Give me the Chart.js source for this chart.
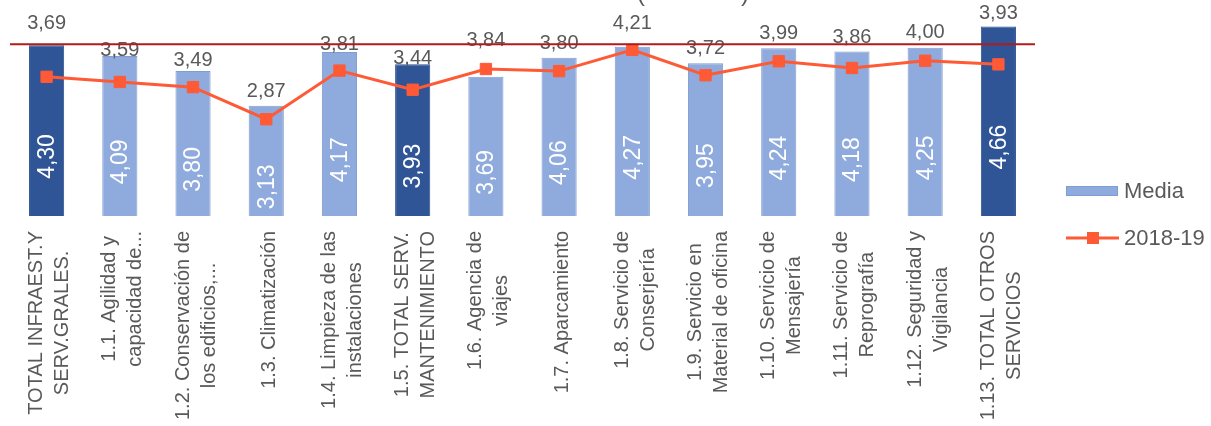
<!DOCTYPE html>
<html><head><meta charset="utf-8">
<script src="https://cdn.jsdelivr.net/npm/chart.js@4.4.1/dist/chart.umd.min.js"></script>
<style>html,body{margin:0;padding:0;background:#fff}#wrap{width:1211px;height:426px}</style>
</head><body><div id="wrap"><canvas id="c" width="1211" height="426"></canvas></div>
<script>
const categories = [
  ["TOTAL INFRAEST.Y", "SERV.GRALES."],
  ["1.1. Agilidad y", "capacidad de..."],
  ["1.2. Conservación de", "los edificios,..."],
  ["1.3. Climatización"],
  ["1.4. Limpieza de las", "instalaciones"],
  ["1.5. TOTAL SERV.", "MANTENIMIENTO"],
  ["1.6. Agencia de", "viajes"],
  ["1.7. Aparcamiento"],
  ["1.8. Servicio de", "Conserjería"],
  ["1.9. Servicio en", "Material de oficina"],
  ["1.10. Servicio de", "Mensajería"],
  ["1.11. Servicio de", "Reprografía"],
  ["1.12. Seguridad y", "Vigilancia"],
  ["1.13. TOTAL OTROS", "SERVICIOS"]
];
const media = [4.30, 4.09, 3.80, 3.13, 4.17, 3.93, 3.69, 4.06, 4.27, 3.95, 4.24, 4.18, 4.25, 4.66];
const prev  = [3.69, 3.59, 3.49, 2.87, 3.81, 3.44, 3.84, 3.80, 4.21, 3.72, 3.99, 3.86, 4.00, 3.93];
const totalIdx = [0, 5, 13];
const refValue = 4.32;
const seriesNames = ["Media", "2018-19"];

const FONT = '"Liberation Sans", Arial, sans-serif';
const LIGHT = '#8FAADC', DARK = '#2F5597', LINE = '#FF5A36', TEXT = '#595959';
const labelLift = [16, 0, 5, 9, 2, 0, 31, 9, 18, 9, 9, 8, 10, 8];
const fmt = v => v.toFixed(2).replace('.', ',');

const overlay = {
  id: 'overlay',
  afterDatasetDraw(chart, args) {
    if (args.index !== 0) return;
    const ctx = chart.ctx;
    ctx.save();
    ctx.fillStyle = '#ffffff';
    ctx.font = '23px ' + FONT;
    ctx.textAlign = 'center';
    ctx.textBaseline = 'middle';
    args.meta.data.forEach((bar, i) => {
      const cy = (bar.y + bar.base) / 2;
      ctx.save();
      ctx.translate(bar.x + 1, cy);
      ctx.rotate(-Math.PI / 2);
      ctx.fillText(fmt(media[i]), 0, 0);
      ctx.restore();
    });
    ctx.restore();
  },
  afterDraw(chart) {
    const ctx = chart.ctx;
    const xs = chart.scales.x, ys = chart.scales.y;
    const area = chart.chartArea;
    const bars = chart.getDatasetMeta(0).data;
    ctx.save();
    // values of 2018-19 above bars
    ctx.fillStyle = TEXT;
    ctx.font = '20px ' + FONT;
    ctx.textAlign = 'center';
    ctx.textBaseline = 'alphabetic';
    bars.forEach((bar, i) => ctx.fillText(fmt(prev[i]), bar.x, bar.y - labelLift[i]));
    // reference line
    const ry = ys.getPixelForValue(refValue);
    ctx.strokeStyle = '#B01C1C';
    ctx.lineWidth = 2;
    ctx.beginPath();
    ctx.moveTo(area.left, ry);
    ctx.lineTo(area.right, ry);
    ctx.stroke();
    // category labels
    ctx.font = '20px ' + FONT;
    ctx.fillStyle = TEXT;
    ctx.textAlign = 'center';
    ctx.textBaseline = 'middle';
    categories.forEach((lines, i) => {
      const px = xs.getPixelForValue(i) + 3;
      const maxW = Math.max(...lines.map(l => ctx.measureText(l).width));
      const cy = area.bottom + 15 + maxW / 2;
      lines.forEach((l, j) => {
        const lx = px + (j - (lines.length - 1) / 2) * 26;
        ctx.save();
        ctx.translate(lx, cy);
        ctx.rotate(-Math.PI / 2);
        ctx.fillText(l, 0, 0);
        ctx.restore();
      });
    });
    // legend
    const lx = area.right + 31;
    ctx.fillStyle = LIGHT;
    ctx.fillRect(lx, 186, 52, 10);
    ctx.strokeStyle = '#7F9CD3';
    ctx.lineWidth = 1;
    ctx.strokeRect(lx + 0.5, 186.5, 51, 9);
    ctx.strokeStyle = LINE;
    ctx.lineWidth = 3;
    ctx.beginPath();
    ctx.moveTo(lx, 238);
    ctx.lineTo(lx + 53, 238);
    ctx.stroke();
    ctx.fillStyle = LINE;
    ctx.fillRect(lx + 21, 232, 12, 12);
    ctx.fillStyle = TEXT;
    ctx.font = '22px ' + FONT;
    ctx.textAlign = 'left';
    ctx.textBaseline = 'middle';
    ctx.fillText(seriesNames[0], lx + 58, 192);
    ctx.fillText(seriesNames[1], lx + 58, 239);
    // cut-off title parentheses
    ctx.font = '24px ' + FONT;
    ctx.textBaseline = 'alphabetic';
    ctx.textAlign = 'center';
    ctx.fillText('(', 641, 1);
    ctx.fillText(')', 745, 1);
    ctx.restore();
  }
};

new Chart(document.getElementById('c'), {
  data: {
    labels: categories,
    datasets: [
      {
        type: 'bar',
        label: seriesNames[0],
        data: media,
        backgroundColor: ctx => totalIdx.includes(ctx.dataIndex) ? DARK : LIGHT,
        borderColor: ctx => totalIdx.includes(ctx.dataIndex) ? '#2A4E8C' : '#809DD2',
        borderWidth: 1,
        barPercentage: 0.48,
        categoryPercentage: 1,
        order: 2
      },
      {
        type: 'line',
        label: seriesNames[1],
        data: prev,
        borderColor: LINE,
        backgroundColor: LINE,
        borderWidth: 3,
        pointStyle: 'rect',
        pointRadius: 8,
        pointBorderWidth: 1,
        pointBackgroundColor: LINE,
        pointBorderColor: LINE,
        tension: 0,
        order: 1
      }
    ]
  },
  options: {
    responsive: false,
    animation: false,
    layout: { padding: { left: 10, right: 176, top: 8, bottom: 0 } },
    plugins: { legend: { display: false }, tooltip: { enabled: false } },
    scales: {
      x: {
        grid: { display: false },
        border: { display: false },
        ticks: { display: false },
        afterFit: s => { s.height = 210; }
      },
      y: { display: false, min: 1, max: 5 }
    }
  },
  plugins: [overlay]
});
</script>
</body></html>
